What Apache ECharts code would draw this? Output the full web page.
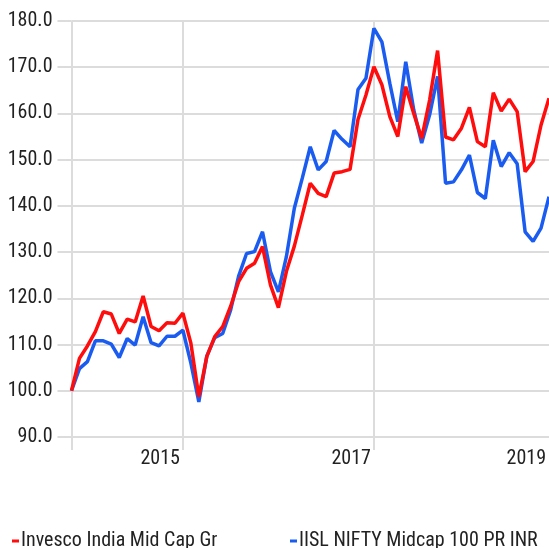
<!DOCTYPE html>
<html>
<head>
<meta charset="utf-8">
<script src="https://cdn.jsdelivr.net/npm/echarts@6/dist/echarts.min.js"></script>
<style>
html,body{margin:0;padding:0;background:#fff;}
#chart{width:549px;height:548px;}
</style>
</head>
<body>
<div id="chart"></div>
<script>
// Monthly categories (Nov 2013 .. Nov 2018)
var months = [];
(function(){ var y = 2013, m = 11; for (var i = 0; i < 61; i++) { months.push(y + '-' + (m < 10 ? '0' + m : m)); m++; if (m > 12) { m = 1; y++; } } })();

var fundName = 'Invesco India Mid Cap Gr';
var indexName = 'IISL NIFTY Midcap 100 PR INR';

var fundValues = [100.0, 107.0, 109.7, 112.8, 117.1, 116.6, 112.4, 115.5, 114.9, 120.5,
  113.9, 113.0, 114.7, 114.6, 116.8, 110.3, 98.7, 107.4, 111.7, 113.9,
  118.3, 123.6, 126.5, 127.6, 131.2, 122.9, 118.0, 125.8, 131.3, 138.0,
  144.9, 142.7, 142.0, 147.1, 147.4, 147.9, 158.7, 164.0, 170.1, 166.2,
  159.3, 155.0, 165.8, 160.0, 154.6, 162.9, 173.6, 154.9, 154.3, 156.8,
  161.3, 153.9, 152.8, 164.5, 160.5, 163.1, 160.4, 147.4, 149.6, 157.5, 163.3];

var indexValues = [100.0, 104.8, 106.3, 110.8, 110.8, 110.1, 107.2, 111.3, 109.9, 116.0,
  110.4, 109.7, 111.8, 111.8, 113.1, 106.0, 97.6, 107.5, 111.5, 112.4,
  117.5, 124.8, 129.7, 130.1, 134.4, 125.8, 121.4, 129.0, 139.5, 146.0,
  152.8, 147.8, 149.6, 156.3, 154.4, 152.8, 165.2, 167.6, 178.4, 175.5,
  166.5, 158.2, 171.2, 160.8, 153.6, 159.7, 168.0, 144.9, 145.2, 147.8,
  151.0, 142.9, 141.6, 154.2, 148.5, 151.5, 149.1, 134.4, 132.3, 135.2, 142.0];

var yMin = 90, yMax = 180, yStep = 10;
var gridMonths = ['2013-11', '2015-01', '2017-01'];
var labelMonths = ['2015-01', '2017-01', '2018-11'];
var xTickLabels = ['2015', '2017', '2019'];

var FONT = "'Liberation Sans Narrow', 'Roboto Condensed', 'DejaVu Sans Condensed', sans-serif";
var GRIDC = '#dcdcdc';
var RED = '#ff0d0d';
var BLUE = '#1b5cf0';

var chart = echarts.init(document.getElementById('chart'), null, {renderer: 'canvas'});
chart.setOption({
  animation: false,
  backgroundColor: '#fff',
  grid: {left: 71.5, right: 0, top: 21, bottom: 111, containLabel: false},
  legend: [
    {data: [fundName], left: 12, top: 524, padding: 0, icon: 'rect', itemWidth: 7, itemHeight: 3, itemGap: 0,
     textStyle: {fontFamily: FONT, fontSize: 20, color: '#222', padding: [14, 0, 0, -3], lineHeight: 20}},
    {data: [indexName], left: 290, top: 524, padding: 0, icon: 'rect', itemWidth: 7, itemHeight: 3, itemGap: 0,
     textStyle: {fontFamily: FONT, fontSize: 20, color: '#222', padding: [14, 0, 0, -3], lineHeight: 20}}
  ],
  xAxis: {
    type: 'category', data: months, boundaryGap: false,
    axisLine: {show: false},
    axisTick: {show: true, length: 13, lineStyle: {color: GRIDC, width: 2},
      interval: function (i, v) { return gridMonths.indexOf(v) >= 0; }},
    splitLine: {show: true, lineStyle: {color: GRIDC, width: 2},
      interval: function (i, v) { return gridMonths.indexOf(v) >= 0; }},
    axisLabel: {show: true, margin: 12, fontFamily: FONT, fontSize: 20, color: '#222',
      align: 'right', padding: [0, 3, 0, 0],
      interval: function (i, v) { return labelMonths.indexOf(v) >= 0; },
      formatter: function (v) { var k = labelMonths.indexOf(v); return k >= 0 ? xTickLabels[k] : ''; }}
  },
  yAxis: {
    type: 'value', min: yMin, max: yMax, interval: yStep,
    axisLine: {show: false},
    axisTick: {show: true, length: 14, lineStyle: {color: GRIDC, width: 2}},
    splitLine: {show: true, lineStyle: {color: GRIDC, width: 2}},
    axisLabel: {margin: 19, fontFamily: FONT, fontSize: 20, color: '#222',
      formatter: function (v) { return v.toFixed(1); }}
  },
  series: [
    {name: indexName, type: 'line', data: indexValues, showSymbol: false, symbol: 'none',
     lineStyle: {color: BLUE, width: 3.5}, itemStyle: {color: BLUE}},
    {name: fundName, type: 'line', data: fundValues, showSymbol: false, symbol: 'none',
     lineStyle: {color: RED, width: 3.5}, itemStyle: {color: RED}}
  ]
});
</script>
</body>
</html>
